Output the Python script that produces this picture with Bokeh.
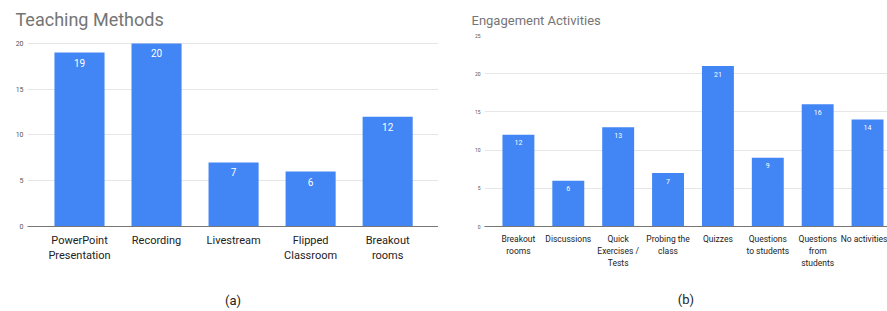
from bokeh.plotting import figure
from bokeh.models import ColumnDataSource, Range1d, FixedTicker, LabelSet, Title, Spacer
from bokeh.layouts import row
from bokeh.core.properties import value
from bokeh.embed import file_html
from bokeh.resources import INLINE

# ---- data ----
teach_categories = ["PowerPoint\nPresentation", "Recording", "Livestream", "Flipped\nClassroom", "Breakout\nrooms"]
teach_values = [19, 20, 7, 6, 12]
teach_yticks = [0, 5, 10, 15, 20]

engage_categories = ["Breakout\nrooms", "Discussions", "Quick\nExercises /\nTests", "Probing the\nclass",
                     "Quizzes", "Questions\nto students", "Questions\nfrom\nstudents", "No activities"]
engage_values = [12, 6, 13, 7, 21, 9, 16, 14]
engage_yticks = [0, 5, 10, 15, 20, 25]

BLUE = "#4285F4"
FONT = "Roboto"


def make_chart(cats, vals, yticks, xr, yr, frame_w, frame_h, title, title_size, title_offset,
               title_standoff, caption, caption_offset, caption_standoff, bar_w, ytick_size,
               xlabel_size, xlabel_standoff, val_size, val_offset):
    xs = list(range(len(cats)))
    src = ColumnDataSource(dict(x=xs, top=vals, label=[str(v) for v in vals]))
    p = figure(frame_width=frame_w, frame_height=frame_h, output_backend="svg", toolbar_location=None,
               x_range=Range1d(*xr), y_range=Range1d(*yr), min_border=0)
    p.outline_line_color = None
    p.background_fill_color = "white"
    p.border_fill_color = "white"

    p.vbar(x="x", top="top", width=bar_w, source=src, fill_color=BLUE, line_color=None)
    p.add_layout(LabelSet(x="x", y="top", text="label", source=src, y_offset=val_offset,
                          text_align="center", text_baseline="middle", text_color="white",
                          text_font=value(FONT), text_font_size=value(val_size)))

    # axes
    p.xaxis.ticker = FixedTicker(ticks=xs)
    p.xaxis.major_label_overrides = {i: c for i, c in enumerate(cats)}
    p.xaxis.major_tick_line_color = None
    p.xaxis.minor_tick_line_color = None
    p.xaxis.axis_line_color = "#777777"
    p.xaxis.major_label_text_font = FONT
    p.xaxis.major_label_text_font_size = xlabel_size
    p.xaxis.major_label_text_color = "#222222"
    p.xaxis.major_label_standoff = xlabel_standoff
    p.xgrid.grid_line_color = None

    p.yaxis.ticker = FixedTicker(ticks=yticks)
    p.yaxis.axis_line_color = None
    p.yaxis.major_tick_line_color = None
    p.yaxis.minor_tick_line_color = None
    p.yaxis.major_tick_out = 0
    p.yaxis.major_tick_in = 0
    p.yaxis.minor_tick_out = 0
    p.yaxis.major_label_text_font = FONT
    p.yaxis.major_label_text_font_size = ytick_size
    p.yaxis.major_label_text_color = "#555555"
    p.yaxis.major_label_standoff = 4
    p.ygrid.ticker = FixedTicker(ticks=yticks)
    p.ygrid.grid_line_color = "#e6e6e6"

    p.add_layout(Title(text=title, text_font=FONT, text_font_size=title_size, text_font_style="normal",
                       text_color="#757575", align="left", offset=title_offset,
                       standoff=title_standoff), "above")
    p.add_layout(Title(text=caption, text_font=FONT, text_font_size="13px", text_font_style="normal",
                       text_color="#222222", align="center", offset=caption_offset,
                       standoff=caption_standoff), "below")
    return p


p1 = make_chart(teach_categories, teach_values, teach_yticks,
                xr=(-0.675, 4.66), yr=(0, 20.87), frame_w=411, frame_h=191,
                title="Teaching Methods", title_size="18px",
                title_offset=-12, title_standoff=12, caption="(a)", caption_offset=-9,
                caption_standoff=50, bar_w=0.65, ytick_size="7px", xlabel_size="11px",
                xlabel_standoff=1, val_size="10px", val_offset=-10)

p2 = make_chart(engage_categories, engage_values, engage_yticks,
                xr=(-0.68, 7.40), yr=(0, 25), frame_w=403, frame_h=191,
                title="Engagement Activities", title_size="13px",
                title_offset=-13, title_standoff=16, caption="(b)", caption_offset=0,
                caption_standoff=39, bar_w=0.64, ytick_size="5px", xlabel_size="8.5px",
                xlabel_standoff=1, val_size="7px", val_offset=-8)

layout = row(Spacer(width=12, height=10), p1, Spacer(width=33, height=10), p2, spacing=0)
open("out.html", "w").write(file_html(layout, INLINE))
